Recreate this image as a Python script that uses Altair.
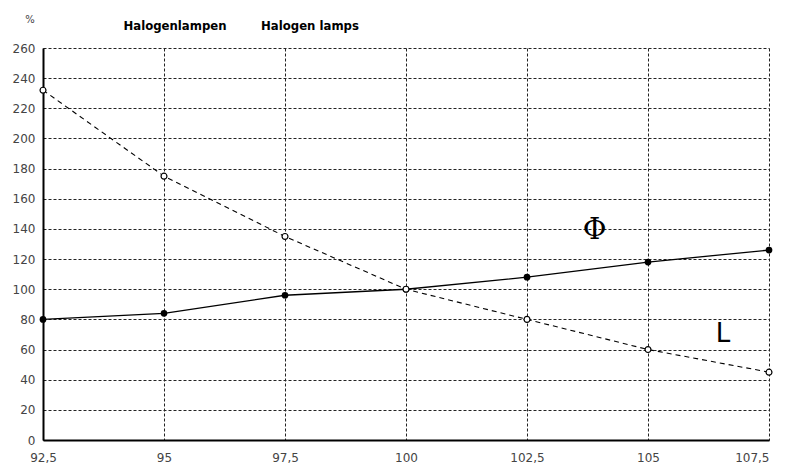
import altair as alt
import pandas as pd

voltage = [92.5, 95, 97.5, 100, 102.5, 105, 107.5]
flux = [80, 84, 96, 100, 108, 118, 126]
life = [232, 175, 135, 100, 80, 60, 45]
x_ticks = [92.5, 95, 97.5, 100, 102.5, 105, 107.5]
y_ticks = list(range(0, 261, 20))

df = pd.DataFrame({"x": voltage * 2,
                   "y": flux + life,
                   "s": ["Phi"] * 7 + ["L"] * 7})

xs = alt.Scale(domain=[92.5, 107.5], nice=False, zero=False)
ys = alt.Scale(domain=[0, 260], nice=False)

label_expr = "replace(format(datum.value, '.1~f'), '.', ',')"
common = dict(title=None, ticks=False, grid=True, gridDash=[3, 2], gridColor="#222",
              gridOpacity=1, gridWidth=1, domain=True, domainColor="#000", domainWidth=2,
              labelFont="DejaVu Sans", labelFontSize=12, labelColor="#444",
              labelOverlap=False, labelFlush=False)
xax = alt.Axis(values=x_ticks, labelExpr=label_expr, labelPadding=12,
               labelAlign=alt.ExprRef(expr="datum.value >= 107.5 ? 'right' : 'center'"),
               **common)
yax = alt.Axis(values=y_ticks, labelPadding=8, **common)

base = alt.Chart(df).encode(
    x=alt.X("x:Q", scale=xs, axis=xax),
    y=alt.Y("y:Q", scale=ys, axis=yax))

phi_line = base.transform_filter("datum.s == 'Phi'").mark_line(color="#000", strokeWidth=1.3)
phi_pts = base.transform_filter("datum.s == 'Phi'").mark_circle(color="#000", size=45, opacity=1)
l_line = base.transform_filter("datum.s == 'L'").mark_line(color="#000", strokeWidth=1.1,
                                                           strokeDash=[5, 4])
l_pts = base.transform_filter("datum.s == 'L'").mark_point(
    shape="circle", filled=True, fill="#fff", stroke="#000", strokeWidth=1.2, size=35, opacity=1)

labels = pd.DataFrame({"x": [103.9, 106.55], "y": [139, 70], "t": ["Φ", "L"]})
phi_txt = alt.Chart(labels.iloc[[0]]).mark_text(font="DejaVu Serif", fontSize=29,
                                                fontWeight="normal", color="#000").encode(
    x=alt.X("x:Q", scale=xs, axis=xax), y=alt.Y("y:Q", scale=ys, axis=yax), text="t:N")
l_txt = alt.Chart(labels.iloc[[1]]).mark_text(font="DejaVu Sans", fontSize=26, color="#000",
                                              fontWeight="normal").encode(
    x=alt.X("x:Q", scale=xs, axis=xax), y=alt.Y("y:Q", scale=ys, axis=yax), text="t:N")

titles = pd.DataFrame({"t": ["Halogenlampen", "Halogen lamps"], "px": [132, 267]})
title_txt = alt.Chart(titles).mark_text(
    font="DejaVu Sans Condensed, Roboto Condensed, Liberation Sans Narrow, sans-serif",
    fontWeight="bold", fontSize=13, color="#000").encode(
    x=alt.X("px:Q", scale=None), y=alt.value(-22), text="t:N")
pct = alt.Chart(pd.DataFrame({"t": ["%"]})).mark_text(font="DejaVu Sans", fontSize=10,
                                                      color="#444").encode(
    x=alt.value(-13), y=alt.value(-28), text="t:N")

chart = alt.layer(l_line, phi_line, phi_pts, l_pts, phi_txt, l_txt, title_txt, pct).properties(
    width=726, height=392,
    autosize=alt.AutoSizeParams(type="none"),
    padding={"left": 35, "top": 40, "right": 8, "bottom": 26},
).configure_view(stroke=None)

chart.save("out.html", embed_options={"renderer": "svg", "actions": False})
